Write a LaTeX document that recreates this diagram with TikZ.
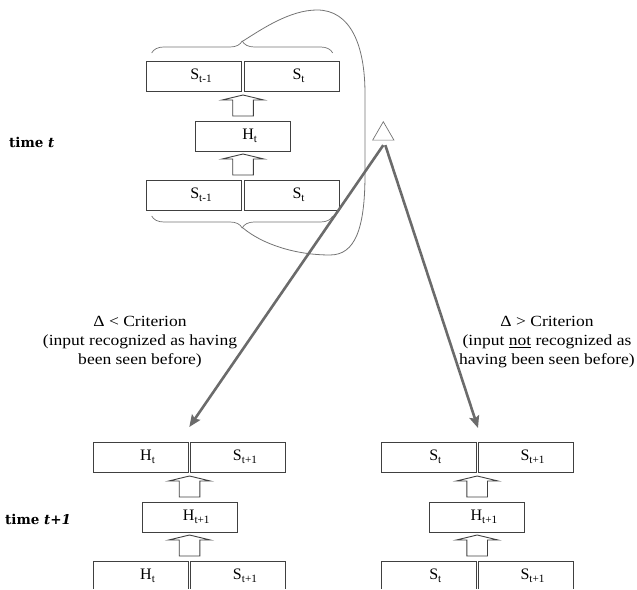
\documentclass[tikz,border=0pt]{standalone}
\usepackage{fontspec}
\setmainfont{Liberation Serif}
\newfontfamily\timefont{DejaVu Serif}
\newfontfamily\critfont{Liberation Serif}[FakeStretch=1.13]
\usetikzlibrary{positioning,calc,arrows.meta,decorations.pathreplacing,shapes.geometric}

\tikzset{
  cell/.style={rectangle, draw=black!75, line width=0.9pt,
    minimum width=95pt, minimum height=30pt, inner sep=0, outer sep=0,
    font=\fontsize{16}{19}\selectfont, execute at begin node={\hspace*{14pt}}},
  hollow/.style={draw=black!75, line width=0.9pt},
  timelabel/.style={font=\timefont\bfseries\fontsize{13.5}{16}\selectfont, anchor=base west, inner sep=0},
  crit/.style={align=center, font=\critfont\fontsize{15.5}{19}\selectfont, inner sep=0},
  jump/.style={draw=black!58, line width=2.6pt, -{Stealth[length=12pt,width=10pt,inset=2pt]}},
  bracket/.style={draw=black!55, line width=0.7pt, decorate, decoration={brace, amplitude=12pt}},
  loopline/.style={draw=black!55, line width=0.8pt},
}

% hollow block arrow standing on a point
\newcommand{\blockup}[1]{%
  \draw[hollow] ([shift={(-10.3pt,5pt)}]#1) -- ++(0,16pt) -- ++(-10.5pt,0) -- ++(20.8pt,5pt)
    -- ++(20.8pt,-5pt) -- ++(-10.5pt,0) -- ++(0,-16pt) -- cycle;}

\begin{document}
\begin{tikzpicture}[x=1pt, y=1pt]
  \useasboundingbox (0,0) rectangle (637,589);
  \clip (0,0) rectangle (637,589);

  % time t
  \node[cell] (tt-l) at (194.2,513) {S\textsubscript{t-1}};
  \node[cell, right=2.6pt of tt-l] (tt-r) {S\textsubscript{t}};
  \node[cell, below=30pt of tt-l.south east, xshift=1.3pt] (tt-h) {H\textsubscript{t}};
  \node[cell] (tb-l) at (194.2,394) {S\textsubscript{t-1}};
  \node[cell, right=2.6pt of tb-l] (tb-r) {S\textsubscript{t}};
  \coordinate (tb-mid) at ($(tb-l.north east)!0.5!(tb-r.north west)$);
  \blockup{tt-h.north}
  \blockup{tb-mid}

  \node[timelabel] (time1) at (9,441) {time \textit{t}};

  % braces and the loop round them
  \draw[bracket] ([xshift=5pt,yshift=8pt]tt-l.north west) -- ([xshift=-6.6pt,yshift=8pt]tt-r.north east);
  \draw[bracket] ([xshift=-6.6pt,yshift=-6pt]tb-r.south east) -- ([xshift=5pt,yshift=-6pt]tb-l.south west);
  \coordinate (loop-a) at ([yshift=20pt]$(tt-l.north east)!0.5!(tt-r.north west)$);
  \coordinate (loop-b) at ([yshift=-18pt]$(tb-l.south east)!0.5!(tb-r.south west)$);
  \draw[loopline] (loop-a) .. controls (262,560) and (290,579) .. (317,579)
    .. controls (350,579) and (365,545) .. (365,495) -- (365,415)
    .. controls (365,360) and (355,334) .. (330,334)
    .. controls (295,334) and (262,345) .. (loop-b);

  \node[regular polygon, regular polygon sides=3, draw=black!55, line width=0.7pt,
    minimum size=24.6pt, inner sep=0, outer sep=0] (delta) at (383.3,455) {};

  % time t+1, recognized
  \node[cell] (bl-tl) at (140.8,132) {H\textsubscript{t}};
  \node[cell, right=2.4pt of bl-tl] (bl-tr) {S\textsubscript{t+1}};
  \node[cell, below=30pt of bl-tl.south east, xshift=1.2pt] (bl-h) {H\textsubscript{t+1}};
  \node[cell] (bl-bl) at (140.8,13) {H\textsubscript{t}};
  \node[cell, right=2.4pt of bl-bl] (bl-br) {S\textsubscript{t+1}};
  \coordinate (bl-mid) at ($(bl-bl.north east)!0.5!(bl-br.north west)$);
  \blockup{bl-h.north}
  \blockup{bl-mid}

  % time t+1, not recognized
  \node[cell] (br-tl) at (428.5,132) {S\textsubscript{t}};
  \node[cell, right=2.3pt of br-tl] (br-tr) {S\textsubscript{t+1}};
  \node[cell, below=30pt of br-tl.south east, xshift=1.2pt] (br-h) {H\textsubscript{t+1}};
  \node[cell] (br-bl) at (428.5,13) {S\textsubscript{t}};
  \node[cell, right=2.3pt of br-bl] (br-br) {S\textsubscript{t+1}};
  \coordinate (br-mid) at ($(br-bl.north east)!0.5!(br-br.north west)$);
  \blockup{br-h.north}
  \blockup{br-mid}

  \node[timelabel] (time2) at (5,64) {time \textit{t+1}};

  \node[crit] (crit-l) at (140,247) {Δ < Criterion\\(input recognized as having\\been seen before)};
  \node[crit] (crit-r) at (547,247) {Δ > Criterion\\(input \underline{not} recognized as\\having been seen before)};

  \draw[jump] ([yshift=-5pt]delta.south) -- ([xshift=1pt,yshift=15pt]bl-tl.north east);
  \draw[jump] ([xshift=2pt,yshift=-5pt]delta.south) -- ([xshift=2pt,yshift=14pt]br-tl.north east);
\end{tikzpicture}
\end{document}
